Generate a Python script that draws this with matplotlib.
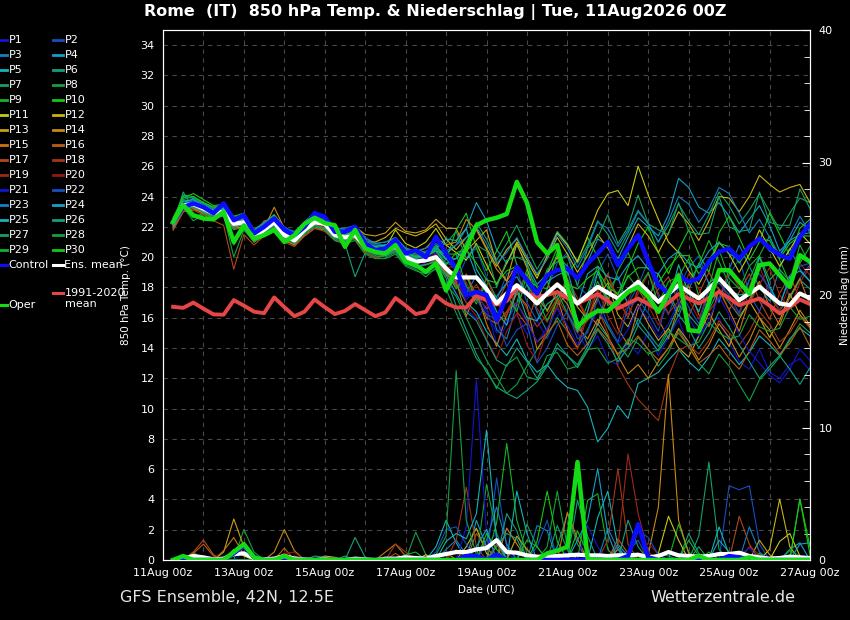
import matplotlib.pyplot as plt
from matplotlib.lines import Line2D
from matplotlib.ticker import MultipleLocator

FIG_W, FIG_H = 850, 620

# forecast steps, hours after 11Aug2026 00Z
lead_hours = list(range(6, 385, 6))
date_ticks = [0, 2, 4, 6, 8, 10, 12, 14, 16]
date_labels = ["11Aug 00z", "13Aug 00z", "15Aug 00z", "17Aug 00z", "19Aug 00z",
               "21Aug 00z", "23Aug 00z", "25Aug 00z", "27Aug 00z"]

member_names = [f"P{i}" for i in range(1, 31)]
member_colors = [
    "#1414d2", "#1450c0", "#1480c4", "#14a0c8", "#14b4b8", "#14a080", "#14a064", "#14a040", "#14b428", "#14c814",
    "#c8c814", "#c8b414", "#c8a014", "#c88814", "#c87414", "#b86014", "#b04818", "#a03818", "#a02818", "#961818",
    "#1414d2", "#1450c0", "#1480c4", "#14a0c8", "#14b4b8", "#14a080", "#14a064", "#14a040", "#14b428", "#14c814",
]

# 850 hPa temperature (degC), one row per member P1..P30
temp_members = [
    [22.0, 23.6, 23.3, 23.0, 22.7, 23.2, 22.0, 22.5, 21.0, 21.6, 22.6, 21.7, 21.0, 21.6, 22.5, 22.0, 21.2, 21.0, 21.8, 20.5, 20.2, 20.6, 21.0, 19.8, 19.4, 19.6, 20.3, 18.8,
     17.5, 16.6, 15.9, 16.8, 14.2, 15.6, 16.2, 14.9, 15.8, 14.6, 16.1, 16.9, 15.0, 13.9, 14.8, 13.2, 12.9, 14.4, 13.6, 15.1, 13.5, 14.7, 15.9, 14.0, 14.8, 15.6, 16.0, 14.4, 13.1, 12.6, 13.9, 12.4, 12.0, 12.9, 13.3, 12.5],
    [22.5, 23.2, 23.7, 23.4, 23.1, 22.8, 22.4, 22.1, 21.6, 22.0, 22.1, 21.3, 21.3, 22.0, 22.8, 22.4, 21.7, 21.5, 21.2, 20.9, 20.6, 20.3, 20.5, 20.2, 19.9, 20.1, 19.6, 19.0,
     18.4, 19.9, 20.6, 18.7, 17.1, 18.9, 19.2, 17.0, 15.8, 17.9, 19.6, 20.3, 18.1, 17.5, 19.0, 20.2, 18.6, 16.9, 18.1, 19.8, 17.4, 16.2, 18.0, 19.3, 20.1, 18.2, 17.1, 18.8, 19.9, 17.6, 16.4, 18.5, 19.2, 17.3, 18.6, 19.5],
    [22.4, 23.5, 23.9, 23.5, 23.2, 23.3, 22.6, 22.8, 21.8, 22.2, 22.8, 22.0, 21.6, 22.3, 23.0, 22.6, 21.9, 21.9, 22.1, 21.3, 20.9, 21.0, 21.3, 20.6, 20.3, 20.4, 20.8, 19.9,
     19.1, 17.6, 18.8, 17.9, 15.2, 14.6, 16.9, 18.2, 16.4, 15.1, 16.8, 17.6, 15.9, 14.2, 15.6, 17.9, 18.7, 16.8, 15.5, 17.2, 18.9, 17.4, 16.1, 17.8, 19.6, 18.3, 17.0, 19.2, 20.8, 19.4, 18.0, 17.1, 19.3, 20.6, 19.2, 18.4],
    [22.6, 23.7, 23.6, 23.3, 23.0, 23.1, 22.3, 22.5, 21.5, 21.9, 22.5, 21.6, 21.4, 22.1, 22.6, 22.3, 21.6, 21.4, 21.7, 20.8, 20.6, 20.7, 20.9, 20.3, 20.1, 20.3, 20.6, 20.2,
     20.8, 21.9, 23.6, 22.4, 20.5, 19.6, 20.8, 19.5, 18.2, 18.9, 20.1, 19.4, 18.6, 19.7, 21.2, 20.8, 19.9, 21.3, 22.6, 22.0, 21.4, 22.8, 25.2, 24.6, 23.3, 22.9, 23.6, 22.7, 21.6, 22.5, 23.4, 22.1, 20.4, 21.1, 22.3, 21.8],
    [22.2, 23.3, 23.4, 23.1, 22.8, 22.9, 22.0, 22.2, 21.2, 21.7, 22.2, 21.4, 21.0, 21.7, 22.2, 22.0, 21.3, 21.1, 21.3, 20.5, 20.3, 20.2, 20.5, 19.8, 19.6, 19.7, 19.8, 18.9,
     18.2, 17.0, 16.4, 15.1, 14.3, 13.5, 14.6, 13.2, 12.4, 12.9, 12.0, 11.4, 11.2, 10.1, 7.8, 8.7, 10.2, 9.35, 11.66, 12.0, 12.4, 13.2, 13.9, 13.1, 12.5, 13.4, 14.6, 13.8, 12.9, 13.7, 14.8, 14.2, 13.5, 14.6, 15.3, 14.8],
    [22.1, 24.3, 23.2, 22.9, 22.6, 22.7, 21.8, 22.0, 21.1, 21.5, 22.0, 21.2, 20.8, 21.5, 22.0, 21.8, 21.1, 20.9, 18.7, 20.3, 20.0, 20.1, 20.4, 19.6, 19.3, 19.5, 19.7, 18.6,
     16.8, 15.2, 13.6, 12.4, 11.44, 11.0, 10.67, 11.2, 11.77, 12.8, 14.0, 13.5, 12.9, 14.1, 15.6, 14.7, 13.6, 14.4, 15.9, 15.0, 14.1, 15.3, 16.8, 16.2, 15.4, 16.5, 17.9, 17.0, 16.1, 17.0, 18.3, 17.4, 16.5, 17.3, 18.5, 17.9],
    [22.5, 23.8, 24.0, 23.6, 23.3, 23.2, 22.5, 22.7, 21.6, 22.1, 22.6, 21.8, 21.5, 22.0, 22.5, 22.2, 21.6, 21.6, 21.8, 21.0, 20.7, 20.8, 21.1, 20.4, 20.0, 20.2, 20.5, 19.6,
     19.9, 21.0, 22.3, 21.2, 19.8, 20.9, 22.1, 20.6, 19.2, 20.3, 21.7, 20.9, 19.6, 20.8, 22.4, 21.5, 20.3, 21.6, 23.0, 22.2, 21.0, 22.1, 23.5, 22.4, 21.5, 22.8, 24.3, 23.4, 22.2, 23.1, 24.2, 23.0, 21.8, 22.9, 23.9, 23.6],
    [22.3, 23.3, 22.4, 22.8, 22.6, 22.8, 20.0, 21.8, 21.0, 21.4, 21.9, 21.1, 20.9, 21.6, 22.1, 21.9, 21.2, 21.0, 21.3, 20.4, 20.1, 20.0, 20.3, 19.5, 19.2, 18.7, 19.3, 18.2,
     17.4, 16.0, 14.6, 13.2, 12.1, 11.0, 11.6, 12.8, 13.9, 14.8, 16.0, 15.1, 14.0, 15.2, 16.6, 15.4, 14.3, 13.4, 14.7, 13.9, 12.8, 13.7, 15.2, 14.1, 13.0, 12.3, 13.6, 12.8, 11.6, 10.5, 11.9, 12.6, 13.4, 14.5, 15.6, 15.0],
    [22.4, 23.6, 23.7, 23.3, 23.0, 23.1, 22.3, 22.4, 21.4, 21.8, 22.4, 21.5, 21.2, 21.8, 22.4, 22.1, 21.4, 21.3, 21.5, 20.6, 20.4, 20.5, 20.8, 20.1, 19.8, 20.0, 20.4, 20.2,
     20.2, 18.1, 16.9, 18.6, 17.3, 15.8, 17.0, 19.2, 18.0, 16.4, 17.7, 16.3, 15.1, 16.9, 18.4, 17.0, 19.1, 20.3, 18.7, 17.2, 18.9, 17.6, 16.4, 18.3, 19.5, 21.1, 19.7, 18.2, 16.9, 18.5, 20.1, 21.4, 19.8, 18.3, 19.6, 20.7],
    [22.6, 23.9, 24.2, 23.8, 23.4, 23.5, 22.7, 22.9, 21.8, 22.3, 22.8, 21.9, 21.6, 22.3, 22.9, 22.5, 21.8, 21.7, 22.0, 21.1, 20.8, 20.8, 21.1, 20.5, 20.2, 20.3, 20.7, 19.8,
     21.8, 22.9, 20.6, 19.1, 20.4, 21.7, 19.5, 18.2, 17.1, 19.0, 20.6, 18.9, 19.8, 21.3, 20.0, 18.4, 17.5, 19.3, 20.9, 22.0, 20.3, 18.9, 20.5, 21.8, 20.2, 19.0, 21.6, 22.7, 21.3, 19.8, 21.0, 22.9, 21.5, 20.1, 21.9, 22.5],
    [22.3, 23.4, 23.5, 23.2, 22.9, 23.0, 22.3, 22.4, 21.4, 21.9, 22.3, 21.5, 21.2, 21.9, 22.3, 22.0, 21.4, 21.3, 21.5, 20.8, 20.5, 20.6, 21.8, 20.9, 20.6, 21.0, 21.9, 20.8,
     20.3, 19.8, 20.9, 19.5, 18.2, 19.6, 21.0, 19.8, 18.6, 20.1, 21.6, 20.8, 19.7, 21.4, 23.1, 24.2, 24.4, 23.4, 26.0, 24.1, 22.5, 21.0, 20.3, 19.1, 18.2, 19.5, 21.0, 20.2, 19.0, 20.2, 21.8, 20.6, 19.4, 20.5, 21.6, 20.9],
    [22.2, 23.2, 23.4, 23.0, 22.7, 22.9, 22.1, 22.3, 21.3, 21.8, 22.2, 21.4, 21.0, 21.7, 22.1, 21.9, 21.5, 21.4, 21.6, 21.0, 21.0, 21.3, 21.9, 21.6, 21.4, 21.7, 22.2, 21.2,
     20.5, 21.3, 21.9, 20.6, 19.4, 20.5, 21.2, 20.0, 18.8, 19.9, 21.3, 20.2, 19.0, 20.1, 21.5, 20.6, 19.5, 20.7, 22.2, 21.4, 20.3, 21.6, 23.0, 22.2, 21.1, 22.4, 24.0, 23.9, 23.0, 24.0, 25.4, 24.8, 24.3, 24.6, 24.8, 23.6],
    [21.9, 23.1, 23.3, 23.0, 22.8, 22.9, 22.0, 22.1, 21.1, 21.7, 22.1, 21.3, 21.0, 21.6, 22.2, 22.1, 21.6, 21.6, 22.0, 21.5, 21.4, 21.6, 22.3, 21.7, 21.6, 21.8, 22.5, 21.9,
     21.9, 20.4, 21.1, 21.8, 19.6, 18.4, 20.9, 19.3, 17.0, 18.9, 20.0, 18.1, 16.7, 15.9, 17.4, 18.3, 16.2, 15.4, 16.9, 15.6, 14.5, 15.3, 14.0, 13.4, 14.8, 16.3, 15.2, 14.1, 15.9, 17.1, 16.0, 14.7, 15.8, 17.6, 16.2, 15.4],
    [22.0, 23.3, 23.6, 23.3, 23.0, 23.6, 22.4, 22.6, 21.5, 21.9, 23.3, 21.9, 21.5, 22.0, 22.4, 22.2, 21.7, 21.5, 21.6, 20.8, 20.5, 20.6, 21.0, 20.5, 20.3, 20.6, 21.3, 20.8,
     21.0, 22.5, 21.8, 20.5, 19.2, 18.4, 19.5, 18.6, 17.3, 16.5, 17.7, 16.9, 15.4, 14.6, 15.9, 14.8, 13.5, 12.3, 12.9, 12.0, 13.1, 14.0, 15.3, 14.4, 13.2, 14.2, 15.6, 14.7, 13.4, 14.5, 16.0, 15.2, 14.0, 15.2, 16.5, 15.5],
    [21.8, 23.0, 23.2, 22.9, 22.7, 22.8, 21.9, 22.0, 21.0, 21.5, 21.9, 21.1, 20.8, 21.4, 21.9, 21.8, 21.3, 21.2, 21.4, 20.6, 20.3, 20.3, 20.6, 19.9, 19.6, 19.7, 19.9, 18.9,
     18.4, 16.1, 17.8, 15.6, 14.1, 16.2, 17.6, 16.8, 13.9, 15.0, 17.3, 15.2, 14.0, 16.3, 15.5, 17.4, 15.3, 14.2, 16.6, 17.7, 15.9, 14.6, 16.8, 18.1, 16.2, 15.4, 17.9, 16.5, 15.1, 17.2, 18.4, 16.7, 15.5, 17.4, 18.6, 16.8],
    [22.1, 23.2, 23.3, 23.1, 22.8, 23.1, 22.2, 22.5, 21.4, 22.4, 22.5, 21.6, 21.2, 21.8, 22.2, 22.0, 21.4, 21.3, 21.4, 20.6, 20.4, 20.5, 20.7, 20.1, 19.8, 19.9, 20.1, 19.2,
     18.0, 18.7, 17.5, 16.0, 15.6, 16.4, 17.0, 15.8, 14.4, 15.0, 15.8, 14.2, 13.5, 14.3, 15.3, 14.5, 13.6, 14.0, 14.8, 13.9, 13.2, 14.0, 15.0, 14.1, 13.0, 13.5, 14.2, 13.3, 12.6, 13.8, 15.2, 14.5, 13.6, 14.3, 15.4, 14.1],
    [21.8, 23.0, 23.1, 22.8, 22.4, 22.1, 19.2, 21.5, 20.8, 21.4, 21.8, 21.0, 20.7, 21.4, 21.9, 21.7, 21.1, 21.0, 21.2, 20.3, 20.0, 20.2, 20.5, 19.7, 19.4, 19.5, 19.8, 18.8,
     18.0, 18.9, 17.5, 16.6, 16.9, 18.3, 16.4, 15.5, 17.6, 18.4, 16.9, 18.0, 17.1, 15.9, 17.8, 18.9, 17.2, 16.0, 17.9, 16.8, 17.9, 18.7, 17.0, 16.1, 17.6, 19.0, 17.8, 16.5, 17.7, 18.9, 17.1, 15.9, 17.6, 18.8, 17.2, 16.9],
    [22.0, 23.3, 23.4, 23.1, 22.8, 22.9, 22.1, 22.2, 21.2, 21.7, 22.1, 21.3, 21.0, 21.6, 22.1, 21.9, 21.3, 21.1, 21.3, 20.5, 20.2, 20.3, 20.6, 19.9, 19.6, 19.7, 20.0, 19.0,
     18.3, 17.4, 18.2, 17.0, 15.6, 16.4, 17.7, 16.6, 15.4, 16.2, 17.3, 16.2, 15.0, 15.8, 16.6, 15.0, 12.8, 11.6, 10.6, 9.9, 9.2, 12.1, 13.8, 14.2, 13.6, 14.5, 15.8, 15.0, 14.2, 15.1, 16.4, 15.6, 14.4, 15.0, 16.1, 15.3],
    [22.2, 23.5, 23.6, 23.3, 22.9, 23.0, 22.2, 22.3, 21.3, 21.8, 22.2, 21.4, 21.1, 21.7, 22.2, 22.0, 21.4, 21.2, 21.4, 20.6, 20.3, 20.4, 20.6, 19.9, 19.6, 19.8, 20.0, 19.3,
     19.4, 18.3, 17.2, 18.6, 17.0, 16.1, 17.9, 18.8, 16.6, 15.7, 17.4, 18.6, 17.3, 16.0, 17.1, 18.9, 17.0, 16.2, 17.6, 18.9, 17.6, 16.3, 17.1, 18.9, 17.9, 16.4, 17.3, 19.1, 18.0, 16.9, 18.2, 19.3, 17.5, 16.6, 18.3, 19.4],
    [22.3, 23.4, 23.5, 23.2, 23.0, 23.1, 22.4, 22.4, 21.5, 21.9, 22.4, 21.6, 21.3, 21.9, 22.4, 22.2, 21.6, 21.4, 21.6, 20.7, 20.5, 20.5, 20.8, 20.1, 19.8, 19.9, 20.2, 19.5,
     18.6, 17.0, 16.1, 14.6, 13.3, 15.1, 16.3, 14.2, 13.1, 15.2, 16.8, 15.0, 13.9, 16.4, 17.9, 16.1, 14.9, 17.1, 18.6, 16.8, 15.5, 17.4, 19.0, 17.2, 15.9, 17.9, 18.6, 17.1, 16.2, 18.1, 19.4, 17.6, 16.5, 18.2, 19.6, 18.8],
    [22.4, 23.6, 23.6, 23.4, 23.1, 23.4, 22.5, 22.6, 21.5, 22.0, 22.5, 21.7, 21.3, 21.9, 22.5, 22.2, 21.5, 21.4, 21.6, 20.8, 20.5, 20.5, 20.8, 20.0, 19.8, 20.0, 20.3, 19.4,
     18.6, 17.2, 17.8, 16.4, 15.0, 15.8, 17.0, 15.7, 14.4, 15.3, 16.6, 15.5, 14.2, 15.1, 16.5, 15.6, 14.3, 15.2, 16.8, 15.9, 14.7, 15.6, 17.1, 16.0, 14.8, 15.9, 17.4, 16.2, 14.9, 13.8, 13.0, 12.2, 11.7, 12.6, 13.9, 13.2],
    [22.3, 23.5, 23.8, 23.5, 23.2, 23.2, 22.5, 22.6, 21.7, 22.1, 22.6, 21.8, 21.4, 22.1, 22.7, 22.4, 21.8, 21.7, 21.9, 21.1, 20.8, 20.8, 21.0, 20.5, 20.1, 20.2, 20.4, 19.6,
     19.4, 18.0, 17.2, 16.2, 15.9, 14.1, 15.2, 15.6, 13.0, 14.0, 15.5, 16.4, 14.6, 15.0, 17.3, 15.6, 14.4, 16.7, 17.2, 16.3, 15.1, 17.4, 18.0, 16.7, 15.6, 17.8, 18.3, 17.5, 16.3, 18.5, 18.9, 17.9, 16.8, 18.8, 19.4, 19.6],
    [22.5, 23.5, 23.6, 23.5, 23.3, 23.4, 22.6, 22.8, 21.8, 22.3, 22.7, 21.9, 21.7, 22.3, 22.9, 22.6, 21.9, 21.8, 22.0, 21.2, 20.9, 21.0, 21.2, 20.6, 20.4, 20.6, 20.9, 20.4,
     20.8, 21.3, 22.0, 20.9, 19.6, 20.3, 21.3, 20.0, 18.9, 19.9, 21.5, 20.6, 19.3, 20.6, 22.3, 21.9, 20.7, 21.8, 23.1, 22.2, 21.0, 22.4, 24.0, 23.5, 22.3, 23.2, 24.6, 24.2, 22.9, 21.6, 22.5, 21.3, 20.1, 21.4, 22.7, 21.6],
    [22.2, 23.4, 23.7, 23.4, 23.1, 23.2, 22.4, 22.5, 21.5, 22.0, 22.4, 21.6, 21.3, 22.0, 22.5, 22.3, 21.6, 21.5, 21.7, 20.9, 20.6, 20.6, 20.9, 20.2, 19.9, 20.1, 20.5, 19.9,
     19.9, 20.6, 18.8, 17.6, 17.4, 18.3, 18.7, 17.6, 17.5, 18.4, 18.8, 19.1, 16.8, 18.9, 19.4, 18.7, 18.5, 19.5, 20.1, 19.2, 18.9, 19.9, 20.4, 19.6, 19.3, 20.4, 21.0, 20.2, 19.9, 20.8, 21.3, 20.4, 20.1, 21.1, 21.5, 21.6],
    [22.4, 23.7, 23.8, 23.4, 23.1, 23.2, 22.4, 22.6, 21.6, 22.0, 22.5, 21.7, 21.4, 22.0, 22.5, 22.3, 21.7, 21.5, 21.7, 20.9, 20.7, 20.8, 21.0, 20.3, 20.0, 20.2, 20.6, 21.2,
     21.1, 21.9, 19.2, 18.1, 16.4, 15.5, 17.9, 16.0, 15.8, 16.9, 17.4, 18.3, 15.1, 16.4, 19.0, 17.1, 16.8, 17.9, 18.3, 17.4, 17.1, 17.0, 19.5, 17.6, 16.4, 18.3, 18.8, 17.8, 17.5, 17.6, 20.0, 18.1, 16.8, 18.7, 19.1, 18.4],
    [22.0, 23.2, 23.3, 23.0, 22.8, 22.8, 22.0, 22.2, 21.2, 21.6, 22.1, 21.3, 21.0, 21.6, 22.1, 21.9, 21.3, 21.1, 21.3, 20.5, 20.2, 20.1, 20.4, 19.7, 19.4, 19.5, 19.7, 18.8,
     17.6, 16.4, 15.8, 14.5, 13.2, 12.8, 14.0, 13.1, 12.0, 12.9, 14.3, 13.5, 12.7, 13.8, 15.2, 14.3, 13.1, 14.0, 15.5, 14.7, 13.8, 14.8, 16.2, 15.3, 14.0, 15.0, 16.4, 15.4, 14.2, 13.1, 12.0, 12.8, 13.5, 12.6, 11.6, 12.7],
    [22.5, 24.0, 23.9, 23.5, 23.2, 23.3, 22.5, 22.7, 21.7, 22.2, 22.7, 21.8, 21.6, 22.2, 22.7, 22.4, 21.7, 21.6, 21.8, 21.0, 20.6, 20.7, 21.0, 20.3, 20.1, 20.2, 20.6, 20.9,
     21.7, 19.9, 20.8, 20.4, 18.0, 19.8, 20.0, 19.7, 17.3, 19.2, 19.7, 20.1, 18.1, 20.6, 21.3, 22.8, 20.9, 22.0, 24.1, 22.2, 21.8, 21.5, 23.6, 21.7, 21.5, 21.6, 24.0, 22.0, 21.7, 21.8, 24.3, 22.3, 22.1, 22.1, 24.5, 23.2],
    [22.3, 23.3, 22.6, 22.9, 22.7, 22.9, 20.8, 21.9, 21.0, 21.5, 22.0, 21.2, 20.9, 21.6, 22.1, 21.8, 21.1, 20.9, 21.1, 20.2, 19.9, 19.9, 20.2, 19.4, 19.1, 18.9, 19.2, 17.9,
     16.3, 14.8, 13.3, 12.6, 11.3, 12.9, 13.4, 12.1, 11.9, 13.5, 13.7, 12.6, 12.8, 13.9, 14.0, 13.0, 13.3, 14.6, 14.3, 13.6, 13.9, 15.1, 14.6, 14.1, 14.4, 15.7, 15.0, 14.6, 14.8, 16.2, 15.4, 15.1, 15.3, 16.7, 15.9, 16.1],
    [22.4, 23.5, 23.6, 23.2, 22.9, 23.0, 22.2, 22.4, 21.4, 21.8, 22.3, 21.5, 21.2, 21.8, 22.3, 22.1, 21.4, 21.2, 21.4, 20.6, 20.3, 20.3, 20.6, 19.9, 19.7, 19.8, 19.9, 19.1,
     17.9, 18.8, 17.1, 18.2, 16.0, 17.5, 16.4, 18.9, 17.3, 15.8, 17.1, 18.5, 16.9, 17.6, 19.4, 16.8, 17.2, 18.8, 17.9, 19.0, 16.9, 18.4, 18.7, 19.9, 17.4, 18.0, 20.5, 18.6, 17.9, 19.4, 20.1, 18.5, 19.2, 18.4, 20.8, 19.5],
    [22.5, 24.1, 24.0, 23.6, 23.3, 23.4, 22.6, 22.7, 21.6, 22.1, 22.6, 21.7, 21.4, 22.1, 22.7, 22.3, 21.6, 21.5, 21.7, 20.9, 20.6, 20.7, 21.0, 20.3, 20.0, 20.1, 20.4, 19.5,
     20.3, 20.5, 19.6, 18.5, 18.3, 19.1, 19.4, 18.4, 18.1, 17.9, 20.3, 18.2, 17.9, 18.6, 19.1, 18.0, 17.6, 18.7, 19.3, 19.3, 18.3, 19.3, 20.1, 20.1, 18.9, 19.8, 20.9, 20.7, 19.6, 20.6, 21.2, 21.1, 19.9, 20.9, 21.4, 21.4],
]

temp_control = [
    22.3, 23.3, 23.55, 23.3, 22.9, 23.55, 22.44, 22.77, 21.56, 22.0, 22.55, 21.8, 21.45, 22.0, 22.9, 22.66,
    21.67, 21.67, 22.0, 20.9, 20.46, 20.57, 21.12, 20.24, 20.46, 20.0, 21.34, 20.24, 19.25, 17.5, 17.7, 17.5,
    15.84, 17.4, 19.36, 18.48, 17.6, 18.8, 19.14, 19.25, 18.6, 19.58, 20.24, 21.0, 19.47, 20.57, 21.45, 19.7,
    18.15, 17.6, 18.8, 18.37, 18.6, 19.7, 20.35, 20.57, 19.9, 20.68, 21.23, 20.6, 20.13, 19.9, 21.34, 22.2,
]
temp_oper = [
    22.33, 23.43, 22.77, 22.55, 22.5, 23.0, 21.0, 22.1, 21.23, 21.45, 21.8, 21.0, 21.45, 22.2, 22.6, 22.25,
    22.1, 20.68, 21.8, 20.57, 20.35, 20.24, 20.8, 19.7, 19.47, 19.03, 19.58, 17.8, 19.14, 20.6, 22.1, 22.44,
    22.6, 22.85, 24.97, 23.6, 21.0, 20.24, 20.8, 18.04, 15.4, 16.06, 16.45, 16.45, 17.05, 17.7, 18.04, 17.38,
    16.39, 17.6, 18.8, 15.18, 15.1, 17.0, 19.14, 19.14, 18.37, 17.6, 19.47, 19.58, 18.8, 18.04, 20.13, 19.7,
]
temp_mean = [
    22.27, 23.43, 23.5, 23.2, 22.9, 23.0, 22.2, 22.3, 21.34, 21.8, 22.3, 21.45, 21.1, 21.8, 22.3, 22.2,
    21.45, 21.3, 21.45, 20.7, 20.4, 20.4, 20.7, 20.0, 19.7, 19.8, 20.0, 19.25, 18.66, 18.66, 18.66, 17.9,
    16.94, 17.6, 18.15, 17.6, 16.94, 17.6, 18.2, 17.6, 16.94, 17.5, 18.04, 17.65, 17.27, 17.8, 18.37, 17.7,
    17.05, 17.6, 18.15, 17.7, 17.27, 17.9, 18.6, 17.9, 17.16, 17.6, 18.04, 17.5, 16.94, 16.83, 17.6, 17.27,
]
temp_clim = [
    16.72, 16.65, 17.0, 16.6, 16.22, 16.2, 17.16, 16.8, 16.4, 16.3, 17.34, 16.7, 16.1, 16.4, 17.2, 16.7,
    16.24, 16.45, 16.9, 16.5, 16.1, 16.35, 17.3, 16.8, 16.24, 16.4, 17.45, 16.94, 16.68, 16.68, 17.45, 17.16,
    16.88, 17.1, 17.97, 17.6, 17.38, 17.5, 17.7, 17.3, 16.94, 17.25, 17.56, 17.1, 16.61, 16.95, 17.27, 16.9,
    16.5, 17.0, 17.56, 17.25, 16.94, 17.3, 17.71, 17.3, 16.83, 17.05, 17.27, 16.8, 16.28, 16.7, 17.2, 16.9,
]

# 6-hourly precipitation (mm), one row per member P1..P30
precip_members = [
    [0, 0, .4, .2, 0, 0, 0, 0, 0, 0, 0, 0, 0, 0, 0, 0, 0, 0, 0, 0, 0, 0, 0, 0, 0, 0, 0, 0, 0, 0, 0, 1.2,
     2.0, .5, 0, 0, 0, 0, 1.0, .4, 0, 0, 0, 0, 0, 0, 0, 0, 0, 0, 0, 0, 0, 0, 0, 0, 0, 0, 0, 0, 0, 0, 0, 0],
    [0, 0, 0, 0, 0, 0, .3, .5, 0, 0, 0, 0, 0, 0, 0, 0, 0, 0, 0, 0, 0, 0, 0, 0, 0, 0, 0, 0, 0, 0, 0, 0,
     6.2, 1.0, 0, 0, 0, 0, 0, 0, 0, 0, 0, 0, 0, .6, 1.5, 0, 0, 0, 0, 0, 0, 0, 0, 5.6, 5.3, 5.6, 1.2, 0, 0, 0, 0, 0],
    [0, 0, 0, 0, 0, 0, 0, 0, 0, 0, 0, 0, 0, 0, 0, 0, 0, 0, 0, 0, 0, 0, 0, 0, 0, 0, 0, .8, 1.5, .4, 0, 0,
     0, 0, 0, 0, 2.6, 2.2, 0, 0, 0, 0, 0, 0, 0, 0, 0, 0, .5, .3, 0, 0, 0, 0, 0, 0, 0, 0, 0, 0, 0, 0, 0, 0],
    [0, 0, 0, 0, 0, 0, 0, 0, 0, 0, 0, 0, 0, 0, 0, 0, 0, 0, 0, 0, 0, 0, 0, 0, 0, 0, 0, 0, 0, 0, 3.0, 1.0,
     0, 0, 0, 0, 0, 0, 0, 0, 0, 0, 0, 0, 1.2, .3, 0, 0, 0, 0, 0, 0, 0, 0, 1.5, .6, 0, 0, 0, 0, 0, .8, 1.3, 0],
    [0, 0, 0, 0, 0, 0, 0, 0, 0, 0, 0, 0, 0, 0, 0, 0, 0, 0, 0, 0, 0, 0, 0, 0, 0, 0, 1.0, 3.0, 1.3, 0, 0, 0,
     0, 0, 5.2, 2.0, 0, 0, 0, 0, 0, 0, 3.2, 5.2, 1.0, 0, 0, 0, 0, 0, 0, 0, 0, 0, 0, 0, 0, 0, 0, 0, 0, 0, 0, 0],
    [0, 0, 0, 0, 0, 0, 0, 0, 0, 0, 0, 0, 0, 0, 0, 0, 0, 0, 1.7, .2, 0, 0, 0, 0, 0, 0, 0, 0, 0, 0, 0, 0,
     0, 3.5, 2.2, 0, 0, 0, 0, 0, 4.5, 1.8, 0, 0, 0, 0, 0, 0, 0, 0, 0, 2.0, .5, 0, 0, 0, 0, 0, 0, 0, 0, 0, 0, 0],
    [0, 0, .6, 0, 0, 0, .5, .9, 0, 0, 0, 0, 0, 0, 0, 0, 0, 0, 0, 0, 0, 0, 0, 0, 0, 0, 0, 0, 0, 0, 0, 0,
     0, 0, 0, 0, 0, 0, 1.0, 3.5, 1.2, 0, 0, 0, 0, 0, 0, 0, 0, 0, 0, 0, 1.8, 7.4, .8, 0, 0, 0, 0, 0, 0, 0, 0, 0],
    [0, 0, 0, 0, 0, 0, 0, 2.3, .6, 0, 0, 0, 0, 0, 0, 0, 0, 0, 0, 0, 0, 0, 0, 0, 2.1, .4, 0, 0, 0, 0, 0, 5.7,
     2.0, 0, 0, 0, 0, 1.0, 5.2, 1.0, 0, 0, 0, 0, 0, 0, 0, 0, 0, 0, 0, 0, 0, 0, 0, 0, 0, 0, 0, 0, 0, 0, 0, 0],
    [0, 0, 0, 0, 0, 0, 0, 0, 0, 0, 0, 0, 0, 0, 0, 0, 0, 0, 0, 0, 0, 0, 0, 0, 0, 0, 0, 0, 0, 0, 0, 0,
     2.8, 8.8, 3.0, .5, 0, 0, 0, 0, 0, 4.5, 5.0, .8, 0, 0, 0, 0, 0, 0, 2.7, .6, 0, 0, 0, 0, 0, 0, 0, 0, 0, 0, 0, 0],
    [0, .2, .4, 0, 0, 0, .7, 1.3, 0, 0, 0, 0, 0, 0, 0, 0, 0, 0, 0, 0, 0, 0, 0, 0, 0, 0, 0, 0, 0, 0, 0, 0,
     0, 0, 0, 0, 1.4, 5.2, 1.4, 0, 0, 0, 0, 0, 0, 0, 0, 0, 0, 0, 0, 0, 0, 0, 0, 0, 0, 0, 0, 0, 0, 0, 4.6, 1.0],
    [0, 0, 0, 0, 0, 0, .8, .3, 0, 0, 0, 0, 0, 0, 0, 0, 0, 0, 0, 0, 0, 0, 0, 0, 0, .4, 0, 0, 0, 0, 0, 0,
     0, 0, 0, 0, 0, 0, 0, 0, 0, 0, 0, 0, 0, 0, 0, 0, .5, 3.3, 1.5, 0, 0, 0, 0, 0, 0, 0, 0, 0, 1.4, 2.0, .3, 0],
    [0, 0, 0, 0, 0, 0, 0, 0, 0, 0, 0, 0, 0, 0, 0, .3, .2, 0, 0, 0, 0, 0, 0, 0, 0, 0, 0, 0, 0, 1.0, 2.4, .5,
     0, 0, 0, 0, 0, 0, 0, 0, 0, 0, 0, 0, .8, 0, 0, 0, 0, 0, 0, 0, 0, 0, 0, 0, 0, 0, 0, .8, 4.6, 1.0, 0, 0],
    [0, 0, 0, 0, 0, .6, 3.1, 1.0, 0, 0, 0, .5, 0, 0, 0, 0, 0, 0, 0, 0, 0, 0, 0, 0, 0, 0, 0, .6, 0, 0, 0, 0,
     0, 0, 1.8, .8, 0, 0, 0, 0, 0, 0, 0, 0, 0, 0, 0, 0, 0, 0, 0, 0, 0, 0, 0, 0, 0, 0, 1.5, .4, 0, 0, 0, 0],
    [0, 0, 0, 0, 0, 0, 0, 0, 0, 0, .6, 2.3, .7, 0, 0, 0, 0, 0, 0, 0, 0, 0, 0, 0, 0, 0, 0, 0, 0, 0, 0, 0,
     0, 2.4, 1.2, 0, 0, 0, 0, 0, 0, 0, 0, 0, 0, 0, 0, .4, 4.0, 14.0, 3.0, .5, 0, 0, 0, 0, 0, 0, 0, 0, 0, 0, 0, 0],
    [0, 0, 0, 0, 0, .7, 1.7, .4, 0, 0, 0, 0, 0, 0, 0, 0, 0, 0, 0, 0, 0, .6, 1.2, .3, 0, 0, 0, 0, 0, 0, 0, 0,
     0, 0, 0, 0, 0, 0, 0, 3.6, 1.6, 0, 0, 0, 0, 0, 0, 0, 0, 0, 0, 0, 0, 0, 0, 0, 0, 0, 0, 0, 0, 0, 0, 0],
    [0, 0, .5, 1.2, .3, 0, 0, 0, 0, 0, 0, .9, 0, 0, 0, 0, 0, 0, 0, 0, 0, 0, 0, 0, 0, 0, 0, 0, 0, 0, 2.0, 1.0,
     0, 0, 0, 0, 0, 0, 0, 0, 0, 0, 0, 0, 1.6, .5, 0, 0, 0, 0, 0, 0, 0, 0, 0, 0, 0, 0, 0, 0, 0, 0, 0, .3],
    [0, 0, .6, 1.5, .4, 0, 0, 0, 0, 0, 0, 0, .3, 0, 0, 0, 0, 0, 0, 0, 0, 0, .5, 0, 0, 0, 0, 0, 0, 0, 0, 0,
     1.2, 0, 0, 0, 0, 0, 0, 0, 0, 0, 0, 0, .5, 0, 0, 0, 0, 0, 0, 0, 0, 0, 0, 0, 3.3, 1.2, 0, 0, 0, 0, 0, 0],
    [0, 0, 0, 0, 0, 0, 0, 0, 0, 0, 0, 0, 0, 0, 0, 0, 0, 0, 0, 0, 0, 0, 1.2, .6, 0, 0, 0, 0, 1.5, 5.5, 1.0, 0,
     0, 0, 0, 0, 0, 0, 0, 0, 0, 0, 0, 1.5, 6.9, 1.2, 0, 0, 0, 0, 0, 0, 0, 0, 0, 0, 0, 0, 0, 0, 0, 0, 0, 0],
    [0, 0, 0, 0, 0, 0, 0, 0, 0, 0, 0, 0, 0, 0, 0, 0, 0, 0, 0, 0, 0, 0, 0, .4, 0, 0, 0, 0, 0, 0, 0, 0,
     0, 0, 0, 0, 0, 0, 0, 0, 0, 0, 0, 0, 1.0, 8.0, 3.5, .6, 0, 0, 0, 0, 0, 0, 0, 0, 0, 1.0, .4, 0, 0, 0, 0, 0],
    [0, 0, 0, 0, 0, 0, 0, 0, 0, 0, 0, .5, .6, 0, 0, 0, 0, 0, 0, 0, 0, 0, 0, 0, 0, 0, 0, 0, .8, 0, 0, 0,
     0, 0, 0, 0, 0, 0, 0, 0, 0, 0, 0, 0, 0, 0, 0, 1.3, .4, 0, 0, 0, 0, 0, 0, 0, 0, 0, 0, 0, 0, 0, 0, 0],
    [0, 0, .3, 0, 0, 0, 0, .6, 0, 0, 0, 0, 0, 0, 0, 0, 0, 0, 0, 0, 0, 0, 0, 0, 0, 0, 0, 0, 0, 2.5, 13.6, 2.0,
     0, 0, 0, 0, 0, 0, 0, 0, 0, 2.6, 1.0, 0, 0, 0, 0, 0, 0, 0, 0, 0, 0, 0, 0, 0, .4, .9, 0, 0, 0, 0, 0, 0],
    [0, 0, 0, 0, 0, 0, 0, 0, 0, 0, 0, 0, 0, 0, 0, 0, 0, 0, 0, 0, 0, 0, 0, 0, 0, 0, .6, 2.3, 2.5, 1.2, 0, 0,
     0, 0, 0, 0, 1.0, 3.0, 0, 0, 0, 0, 0, 0, 0, 0, 2.2, 1.7, .4, 0, 0, 0, 0, 0, 0, 0, 0, 0, 0, 0, 0, 0, 0, 0],
    [0, 0, 0, 0, 0, 0, 0, 0, 0, 0, 0, 0, 0, 0, 0, 0, 0, 0, 0, 0, 0, 0, 0, 0, 0, 0, 0, 0, 0, 0, 0, 1.5,
     4.0, 1.2, 0, 0, 0, 0, 0, 0, 0, 0, 0, 2.4, .8, 0, 0, 0, 0, 0, 0, 0, 0, 0, 0, 0, 0, 2.5, .6, 0, 0, 0, 0, 0],
    [0, 0, 0, 0, 0, 0, 0, 0, 0, 0, 0, 0, 0, 0, 0, 0, 0, 0, 0, 0, 0, 0, 0, 0, 0, 0, 0, 0, 0, 0, 1.0, 2.3,
     0, 0, 0, 0, 0, 0, 0, 0, 1.5, 3.0, 6.9, 2.0, 0, 0, 0, 0, 0, 0, 0, 0, 0, 0, 0, 0, 0, 0, 0, 0, 0, 0, 1.2, 1.3],
    [0, 0, 0, 0, 0, 0, 0, 0, 0, 0, 0, 0, 0, 0, 0, 0, 0, 0, 0, 0, 0, 0, 0, 0, 0, 0, 0, 1.4, 2.0, 1.6, 3.5, 9.8,
     1.5, 0, 0, 0, 0, 0, 0, 0, 0, 0, 0, 0, 0, 0, 0, 0, 0, 0, 0, 0, 0, 0, 2.5, .4, 0, 0, 0, 0, 0, 0, 0, 0],
    [0, 0, 0, 0, 0, 0, 0, 0, 0, 0, 0, 0, 0, 0, .3, .2, 0, 0, 0, 0, 0, 0, 0, 0, 0, 0, 0, 0, 0, 0, 0, 0,
     1.0, 2.0, 1.6, 0, 0, 0, 0, 0, 0, 0, 0, 0, 0, 3.0, 1.0, 0, 0, 0, 0, 0, 0, 0, 0, 0, 0, 0, 0, 0, 0, 0, 0, 0],
    [0, 0, .2, 0, 0, 0, 0, 0, 0, 0, 0, 0, 0, 0, 0, 0, 0, .3, 0, 0, 0, 0, 0, 0, 0, 0, 0, 0, 0, 0, 0, 0,
     0, 0, 0, 2.7, 1.0, 0, 2.6, .8, 0, 0, 0, 0, 0, 0, 0, 0, 0, 0, 0, 0, 1.0, 0, 0, 0, 0, 0, 0, 0, 0, 0, 0, 0],
    [0, 0, 0, 0, 0, 0, 0, 0, 0, 0, 0, 0, 0, 0, 0, 0, 0, 0, 0, 0, 0, 0, 0, 0, 0, 0, .4, 1.8, 14.3, 3.0, .4, 0,
     0, 0, 0, 0, 0, 0, 0, 0, 0, 0, 0, 0, 0, 0, 0, 0, 0, 0, 0, 0, 0, 0, 0, 0, 0, 0, .5, 0, 0, .7, .3, 0],
    [0, 0, 0, 0, 0, 0, 0, 0, 0, 0, 0, 0, 0, 0, 0, 0, 0, 0, 0, 0, 0, 0, 0, .4, .6, 0, 0, 0, 0, 0, 0, 0,
     0, 0, 0, 1.5, 1.0, 0, 0, 0, 0, 0, 0, 0, 0, 0, 0, 0, 0, 0, 0, 1.5, .3, 0, 0, 0, 0, 0, 0, 0, 0, .4, 0, 0],
    [0, 0, 0, 0, 0, 0, .4, 1.0, 0, 0, 0, 0, 0, 0, 0, 0, 0, 0, 0, 0, 0, 0, 0, 0, 0, 0, 0, 0, 0, 0, 0, 2.0,
     .8, 0, 0, 0, 0, 0, 0, 0, 2.2, .5, 0, 0, 0, 0, 0, 0, 0, 0, 0, 0, 0, .6, 0, 0, 0, 0, 0, 0, 0, 0, 4.6, .4],
]

precip_control = [
    0, 0, 0, 0, 0, 0, .5, 1.1, .2, 0, 0, 0, 0, 0, 0, 0, 0, 0, 0, 0, 0, 0, 0, 0, 0, 0, 0, 0, 0, .3, .3, 0,
    .4, 0, 0, 0, 0, 0, 0, 0, 0, 0, 0, 0, 0, .3, 2.7, .2, 0, 0, 0, 0, 0, 0, 0, .3, .2, 0, 0, 0, 0, 0, 0, 0,
]
precip_oper = [
    0, .3, 0, 0, 0, 0, .6, 1.2, .2, 0, 0, .3, 0, 0, 0, 0, 0, 0, 0, 0, 0, 0, 0, 0, 0, 0, 0, 0, 0, 0, 0, 0,
    0, 0, 0, 0, 0, .5, .7, 1.0, 7.4, .1, 0, 0, 0, 0, 0, 0, 0, 0, 0, 0, .3, 0, 0, 0, 0, .2, 0, 0, 0, 0, 0, 0,
]
precip_mean = [
    0.0, 0.1, 0.3, 0.2, 0.05, 0.1, 0.45, 0.5, 0.15, 0.05, 0.1, 0.3, 0.1, 0.05, 0.0, 0.05,
    0.0, 0.0, 0.1, 0.05, 0.0, 0.1, 0.1, 0.2, 0.15, 0.1, 0.3, 0.45, 0.6, 0.6, 0.8, 0.9,
    1.5, 0.6, 0.55, 0.35, 0.25, 0.25, 0.3, 0.35, 0.4, 0.35, 0.35, 0.3, 0.35, 0.35, 0.4, 0.2,
    0.3, 0.6, 0.35, 0.3, 0.25, 0.3, 0.45, 0.45, 0.55, 0.3, 0.2, 0.1, 0.15, 0.25, 0.2, 0.15,
]

CONTROL_COLOR = "#0c0cff"
OPER_COLOR = "#14dc14"
MEAN_COLOR = "white"
CLIM_COLOR = "#e64646"


def fx(x):
    return x / FIG_W


def fy(y):
    return 1 - y / FIG_H


def legend_entry(fig, x0, x1, y, color, label, lw=2.0):
    fig.add_artist(Line2D([fx(x0), fx(x1)], [fy(y), fy(y)], color=color, lw=lw))
    fig.text(fx(x1 + 1.5), fy(y), label, color="white", fontsize=8, va="center", ha="left")


def draw_series(axis, members, control, oper, mean, clim=None):
    for vals, col in zip(members, member_colors):
        axis.plot(days, vals, color=col, lw=0.8)
    if clim is not None:
        axis.plot(days, clim, color=CLIM_COLOR, lw=2.8)
    axis.plot(days, mean, color=MEAN_COLOR, lw=3.0)
    axis.plot(days, control, color=CONTROL_COLOR, lw=3.2)
    axis.plot(days, oper, color=OPER_COLOR, lw=3.2)


days = [h / 24 for h in lead_hours]
for name, series in [("control", temp_control), ("oper", temp_oper), ("mean", temp_mean),
                     ("clim", temp_clim), ("p_control", precip_control), ("p_oper", precip_oper),
                     ("p_mean", precip_mean)]:
    assert len(series) == len(days), (name, len(series))
for k, series in enumerate(temp_members):
    assert len(series) == len(days), ("temp", k + 1, len(series))
for k, series in enumerate(precip_members):
    assert len(series) == len(days), ("precip", k + 1, len(series))

fig = plt.figure(figsize=(FIG_W / 100, FIG_H / 100), dpi=100, facecolor="black")
ax = fig.add_axes([fx(163), fy(560), fx(810) - fx(163), fy(30) - fy(560)])
ax.set_facecolor("black")
ax.set_xlim(0, 16)
ax.set_ylim(0, 35)

ax.set_xticks(date_ticks)
ax.set_xticklabels(date_labels)
ax.xaxis.set_minor_locator(MultipleLocator(1))
ax.set_yticks(list(range(0, 35, 2)))
ax.grid(True, which="both", axis="x", color="#484848", ls=(0, (4, 4)), lw=0.8)
ax.grid(True, which="major", axis="y", color="#484848", ls=(0, (4, 4)), lw=0.8)
ax.set_axisbelow(True)
ax.tick_params(axis="both", which="both", colors="white", labelsize=8, direction="in", length=0, pad=6)
for sp in ax.spines.values():
    sp.set_color("white")
ax.set_ylabel("850 hPa Temp. (°C)", color="white", fontsize=7.5)
ax.yaxis.set_label_coords(-0.049, 0.5)

draw_series(ax, temp_members, temp_control, temp_oper, temp_mean, temp_clim)

ax2 = ax.twinx()
ax2.set_ylim(0, 40)
ax2.yaxis.set_major_locator(MultipleLocator(10))
ax2.yaxis.set_minor_locator(MultipleLocator(2))
ax2.tick_params(axis="y", which="major", colors="white", labelsize=8, direction="in", length=6, pad=6)
ax2.tick_params(axis="y", which="minor", colors="white", direction="in", length=4)
for sp in ax2.spines.values():
    sp.set_color("white")
ax2.set_ylabel("Niederschlag (mm)", color="white", fontsize=7.5)
ax2.yaxis.set_label_coords(1.046, 0.5)

draw_series(ax2, precip_members, precip_control, precip_oper, precip_mean)

fig.text(fx(435), fy(12), "Rome  (IT)  850 hPa Temp. & Niederschlag | Tue, 11Aug2026 00Z",
         color="white", fontsize=11.5, fontweight="bold", ha="center", va="center")
fig.text(fx(486), fy(589), "Date (UTC)", color="white", fontsize=7.5, ha="center", va="center")
fig.text(fx(120), fy(598), "GFS Ensemble, 42N, 12.5E", color="#e6e6e6", fontsize=11.5,
         ha="left", va="center")
fig.text(fx(650), fy(598), "Wetterzentrale.de", color="#e6e6e6", fontsize=11.5, ha="left", va="center")

# legend, two columns down the left edge
for k, (name, col) in enumerate(zip(member_names, member_colors)):
    row, right = divmod(k, 2)
    x0, x1 = (53, 63) if right else (0, 7)
    legend_entry(fig, x0, x1, 40 + 15 * row, col, name)
legend_entry(fig, 0, 7, 265, CONTROL_COLOR, "Control", lw=2.2)
legend_entry(fig, 53, 63, 265, MEAN_COLOR, "Ens. mean", lw=2.2)
legend_entry(fig, 53, 63, 293, CLIM_COLOR, "1991-2020", lw=2.2)
fig.text(fx(64.5), fy(304), "mean", color="white", fontsize=8, va="center", ha="left")
legend_entry(fig, 0, 7, 305, OPER_COLOR, "Oper", lw=2.2)

fig.savefig("out.png", dpi=100, facecolor="black")
